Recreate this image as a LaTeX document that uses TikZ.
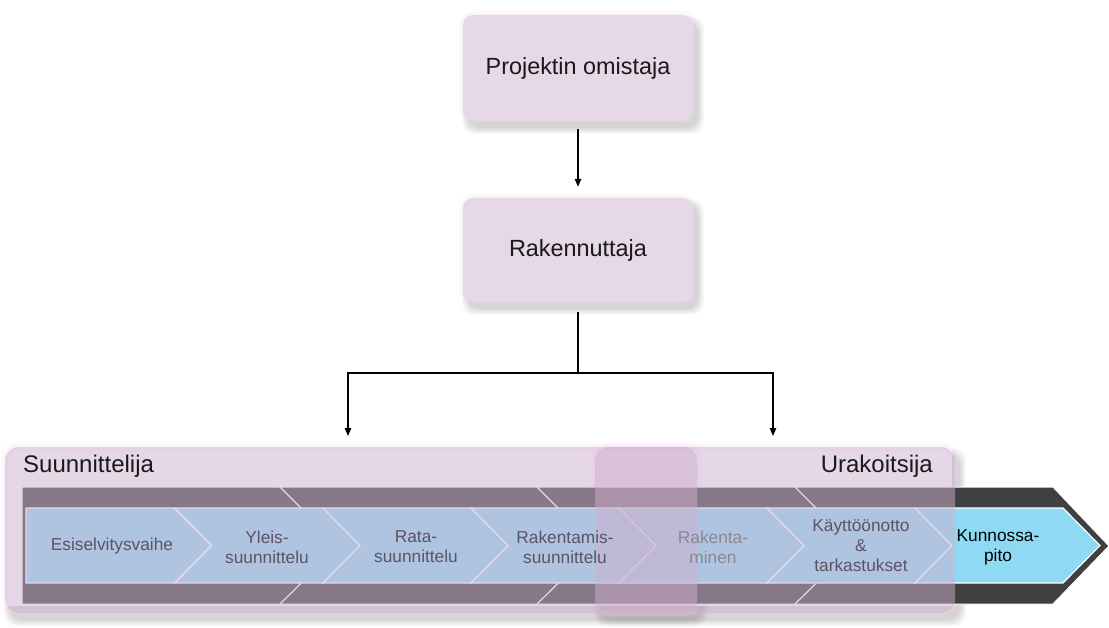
\documentclass[tikz,border=0pt]{standalone}
\usepackage{fontspec}
\setmainfont{Liberation Sans}
\usetikzlibrary{arrows.meta}

\definecolor{boxpink}{HTML}{E7D8E7}
\definecolor{glowpink}{HTML}{F5D3F5}
\definecolor{veil}{HTML}{CFB0CF}
\definecolor{bandgray}{HTML}{404040}
\definecolor{stageblue}{HTML}{8ED9F3}
\definecolor{veiledtext}{HTML}{5E5364}

% soft drop shadow under a rounded rectangle
\newcommand\dropshadow[4]{%
  \foreach \k in {0,1,...,6}{%
    \fill[black, opacity=0.022, rounded corners=12pt]
      ({#1+5-\k},{#2+7-\k}) rectangle ({#3+5+\k},{#4+7+\k});
  }}
% soft pink glow round the edge of a rounded rectangle
\newcommand\glowedge[4]{%
  \foreach \w/\o in {10/0.07, 6/0.09, 3/0.12}{%
    \draw[glowpink, line width=\w pt, opacity=\o, rounded corners=12pt]
      (#1,#2) rectangle (#3,#4);
  }}
% one chevron of the process band: left top x, notch depth, colour
\newcommand\chevron[3]{%
  \fill[#3, draw=white, line width=1.2pt]
    (#1,508) -- ({#1+148},508) -- ({#1+185},545.5) -- ({#1+148},583)
    -- (#1,583) -- ({#1+#2},545.5) -- cycle;
}

\begin{document}
\begin{tikzpicture}[x=1pt,y=-1pt,
  conn/.style={line width=1.4pt, black},
  arrowconn/.style={conn, -{Triangle[length=8pt,width=6.5pt]}},
  topbox/.style={rounded corners=10pt, fill=boxpink, minimum width=230pt,
    text=black!90, font=\fontsize{23.4}{28}\selectfont},
  stagelabel/.style={text=veiledtext, align=center,
    font=\fontsize{17.3}{20}\selectfont, inner sep=0pt},
  rolelabel/.style={font=\fontsize{24}{28}\selectfont, text=black!90, inner sep=0pt},
]
\useasboundingbox (0,0) rectangle (1109,628);
\fill[white] (0,0) rectangle (1109,628);

% ---- organisation boxes
\dropshadow{463}{15}{693}{121}
\glowedge{463}{15}{693}{121}
\node[topbox, minimum height=106pt] (own) at (578,68) {Projektin omistaja};

\dropshadow{463}{198}{693}{302}
\glowedge{463}{198}{693}{302}
\node[topbox, minimum height=104pt] (rak) at (578,250) {Rakennuttaja};

% ---- connectors
\coordinate (split) at (578,373);
\coordinate (suuntop) at (348,436);
\coordinate (uraktop) at (773,436);
\draw[arrowconn, shorten <=8pt, shorten >=11pt] (own.south) -- (rak.north);
\draw[conn, shorten <=10pt] (rak.south) -- (split);
\draw[arrowconn] (split) -| (suuntop);
\draw[arrowconn] (split) -| (uraktop);

% ---- shadow and glow of the role areas
\begin{scope}
  \clip (0,606) rectangle (1109,628) (952,440) rectangle (1109,628);
  \dropshadow{5}{447}{697}{613}
  \dropshadow{595}{447}{955}{613}
\end{scope}
\glowedge{5}{447}{697}{613}
\glowedge{595}{447}{955}{613}

% ---- process band
\fill[bandgray, draw=white, line width=1pt]
  (22,487) -- (1053,487) -- (1109,546) -- (1053,604) -- (22,604) -- cycle;
\foreach \s in {280,537,795}{
  \draw[white, line width=1.2pt] (\s,487) -- ({\s+59},546) -- (\s,604);
}
\chevron{26}{0}{stageblue}
\foreach \i in {1,...,5}{
  \chevron{27+148*\i}{37}{stageblue}
}
\chevron{915}{37}{stageblue}

% ---- translucent role areas
\fill[veil, opacity=0.5, rounded corners=14pt] (5,447) rectangle (697,613);
\fill[veil, opacity=0.5, rounded corners=14pt] (595,447) rectangle (955,613);

% ---- stage labels
\node[stagelabel] (s1) at (112,546) {Esiselvitysvaihe};
\node[stagelabel] (s2) at (267,547) {Yleis-\\suunnittelu};
\node[stagelabel] (s3) at (416,547) {Rata-\\suunnittelu};
\node[stagelabel] (s4) at (565,547) {Rakentamis-\\suunnittelu};
\node[stagelabel, text=veiledtext!70!white] (s5) at (713,547) {Rakenta-\\minen};
\node[stagelabel] (s6) at (861,546) {Käyttöönotto\\\&\\tarkastukset};
\node[stagelabel, text=black] (s7) at (998,547) {Kunnossa-\\pito};

\node[rolelabel, anchor=base west] (suun) at (23,472) {Suunnittelija};
\node[rolelabel, anchor=base east] (urak) at (933,472) {Urakoitsija};
\end{tikzpicture}
\end{document}
